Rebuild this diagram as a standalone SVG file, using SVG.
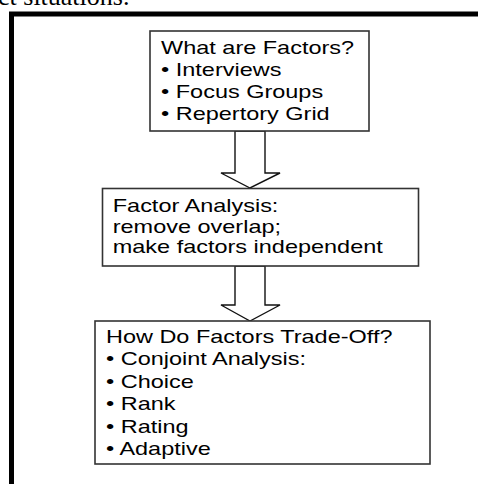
<svg xmlns="http://www.w3.org/2000/svg" width="478" height="484" viewBox="0 0 478 484">
<style>
.box{fill:#fff;stroke:#333;stroke-width:1.6}
.arrow{fill:#fff;stroke:#111;stroke-width:1.4;stroke-linejoin:miter}
.t{font-family:"Liberation Sans",Arial,sans-serif;font-size:18px;fill:#000}
.page{font-family:"Liberation Serif","Times New Roman",serif;font-size:26px;fill:#000}
</style>
<rect width="478" height="484" fill="#fff"/>
<text class="page" x="-2" y="5">ct situations.</text>
<path d="M11.5 484 V14 H478" fill="none" stroke="#000" stroke-width="5"/>
<g id="connectors">
<polygon class="arrow" points="235,131 235,173 221,173 250,188 280,173 265,173 265,131"/>
<polygon class="arrow" points="235,266 235,305 221,305 250,321 280,305 265,305 265,266"/>
</g>
<g id="node1">
<rect class="box" x="150" y="31" width="219" height="100"/>
<g transform="scale(1.305 1)">
<text class="t" x="123.4" y="54">What are Factors?</text>
<text class="t" x="123.4" y="76">• Interviews</text>
<text class="t" x="123.4" y="98">• Focus Groups</text>
<text class="t" x="123.4" y="120">• Repertory Grid</text>
</g>
</g>
<g id="node2">
<rect class="box" x="102.5" y="188.5" width="316" height="77.5"/>
<g transform="scale(1.305 1)">
<text class="t" x="86.4" y="212">Factor Analysis:</text>
<text class="t" x="86.4" y="232.7">remove overlap;</text>
<text class="t" x="86.4" y="253.3">make factors independent</text>
</g>
</g>
<g id="node3">
<rect class="box" x="95" y="321" width="335" height="143"/>
<g transform="scale(1.305 1)">
<text class="t" x="81.2" y="343">How Do Factors Trade-Off?</text>
<text class="t" x="81.2" y="365.5">• Conjoint Analysis:</text>
<text class="t" x="81.2" y="388">• Choice</text>
<text class="t" x="81.2" y="410.5">• Rank</text>
<text class="t" x="81.2" y="433">• Rating</text>
<text class="t" x="81.2" y="455.5">• Adaptive</text>
</g>
</g>
</svg>
